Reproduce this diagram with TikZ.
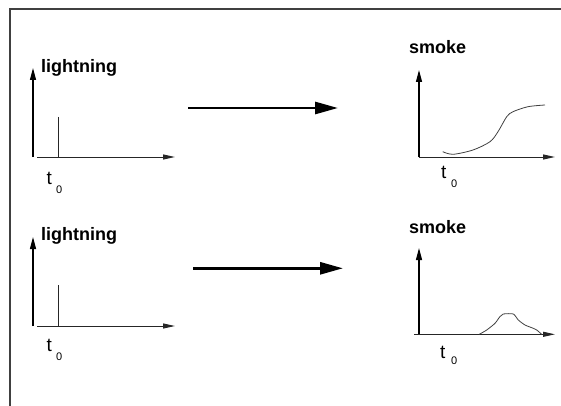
\documentclass[tikz,border=0pt]{standalone}
\usepackage{fontspec}
\setmainfont{Liberation Sans}
\usetikzlibrary{arrows.meta}
\tikzset{
  axis/.style={line width=1.3pt, black, -{Triangle[length=12pt,width=6pt]}},
  xaxis/.style={line width=1pt, black!85, -{Triangle[length=12pt,width=5pt]}},
  spike/.style={line width=0.8pt, black!85},
  curve/.style={line width=0.8pt, black!75, line join=round},
  bigarrow/.style={line width=2.8pt, black, -{Triangle[length=23pt,width=12pt]}},
  label/.style={anchor=base west, inner sep=0pt, font=\fontsize{18}{18}\selectfont\bfseries},
  tlab/.style={anchor=base west, inner sep=0pt, font=\fontsize{19}{19}\selectfont},
  sublab/.style={anchor=base west, inner sep=0pt, font=\fontsize{11}{11}\selectfont},
}
\begin{document}
\begin{tikzpicture}[x=1pt,y=-1pt]
\useasboundingbox (0,0) rectangle (561,406);
\clip (0,0) rectangle (561,406);
% frame (cut off at right and bottom)
\draw[line width=2pt, black!75] (9.5,420) -- (9.5,9.5) -- (580,9.5);

% ---------- top-left panel ----------
\coordinate (o1) at (33,157);
\draw[axis] (o1) -- (33,68);
\draw[xaxis] (37,157) -- (175,157);
\draw[spike] (58,117) -- (58,157);
\node[label] (l1) at (41,72.7) {lightning};
\node[tlab] (t1) at (46.5,184) {t};
\node[sublab] (s1) at (56,193) {0};

% ---------- bottom-left panel ----------
\coordinate (o2) at (33,326);
\draw[axis] (o2) -- (33,237);
\draw[xaxis] (37,326) -- (175,326);
\draw[spike] (58,285) -- (58,326);
\node[label] (l2) at (41,240.7) {lightning};
\node[tlab] (t2) at (46.5,351.7) {t};
\node[sublab] (s2) at (56,360) {0};

% ---------- top-right panel ----------
\coordinate (o3) at (419,157);
\draw[axis] (o3) -- (419,70);
\draw[xaxis] (419,157) -- (555,157);
\draw[curve] plot[smooth, tension=0.5] coordinates {(442.7,151.7) (453,154.3) (473,150) (490,141.7) (498,131.7) (506.7,116.7) (513,111.7) (528,106.7) (545,105)};
\node[label] (sm1) at (409,54) {smoke};
\node[tlab] (t3) at (441,178) {t};
\node[sublab] (s3) at (451,187.7) {0};

% ---------- bottom-right panel ----------
\coordinate (o4) at (419,334.3);
\draw[axis] (o4) -- (419,248);
\draw[xaxis] (414,334.3) -- (555,334.3);
\draw[curve] plot[smooth, tension=0.4] coordinates {(479.3,334.3) (486.7,330) (495,323.3) (500,316.5) (503.3,314) (513.3,314) (518.3,320) (525,325) (533.3,328.3) (536.7,330) (541.7,334.3)};
\node[label] (sm2) at (409,233) {smoke};
\node[tlab] (t4) at (440,358) {t};
\node[sublab] (s4) at (451,364) {0};

% ---------- big arrows ----------
\coordinate (a1s) at (188,108);
\coordinate (a1e) at (338,108);
\draw[bigarrow] (a1s) -- (a1e);
\coordinate (a2s) at (193,268.3);
\coordinate (a2e) at (343,268.3);
\draw[bigarrow] (a2s) -- (a2e);
\end{tikzpicture}
\end{document}
